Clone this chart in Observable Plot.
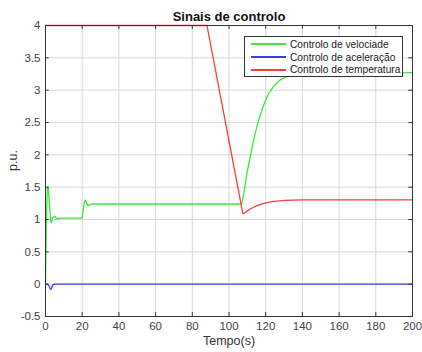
<!DOCTYPE html>
<html><head><meta charset="utf-8">
<script src="https://cdn.jsdelivr.net/npm/d3@7"></script>
<script src="https://cdn.jsdelivr.net/npm/@observablehq/plot@0.6"></script>
<style>
body{margin:0;background:#fff;font-family:"Liberation Sans",Arial,sans-serif;}
#wrap{position:relative;width:422px;height:352px;}
#legend{position:absolute;left:244px;top:36px;width:159px;height:41px;border:1px solid #333;background:#fff;font-size:10.2px;color:#222;box-sizing:border-box;padding-top:1px;white-space:nowrap;overflow:hidden;}
#legend .row{display:flex;align-items:center;height:12.7px;white-space:nowrap;}
#legend .sw{flex:none;display:block;width:35px;height:2px;margin:0 4px 0 6px;}
</style></head>
<body><div id="wrap"><div id="legend"></div></div>
<script>
const title = "Sinais de controlo";
const xLabel = "Tempo(s)";
const yLabel = "p.u.";
const seriesNames = ["Controlo de velociade", "Controlo de aceleração", "Controlo de temperatura"];
const seriesColors = ["#3ee83e", "#3a3aff", "#ff3a3a"];

const velT = [0, 0.5, 1, 1.5, 2, 2.5, 3, 3.5, 4, 5, 6, 7, 8, 10, 20, 20.5, 21, 21.5, 22, 23, 24, 25, 26, 30, 60, 107, 108, 110, 112, 114, 116, 118, 120, 122, 125, 128, 132, 136, 140, 150, 200];
const velV = [0, 1.0, 1.5, 1.5, 1.3, 1.1, 0.95, 0.98, 1.03, 1.05, 1.02, 1.01, 1.02, 1.02, 1.02, 1.12, 1.25, 1.3, 1.28, 1.22, 1.22, 1.24, 1.24, 1.24, 1.24, 1.24, 1.4, 1.75, 2.03, 2.3, 2.52, 2.7, 2.85, 2.97, 3.08, 3.16, 3.22, 3.25, 3.27, 3.27, 3.27];

const aceT = [0, 1, 2, 2.5, 3, 3.5, 4, 5, 200];
const aceV = [0, 0, -0.03, -0.07, -0.08, -0.05, -0.01, 0, 0];

const temT = [0, 88, 107.5, 108, 110, 112, 115, 118, 122, 126, 130, 135, 140, 150, 200];
const temV = [4, 4, 1.1, 1.09, 1.13, 1.17, 1.21, 1.24, 1.27, 1.285, 1.295, 1.30, 1.305, 1.305, 1.305];

const xTicks = [0, 20, 40, 60, 80, 100, 120, 140, 160, 180, 200];
const yTicks = [-0.5, 0, 0.5, 1, 1.5, 2, 2.5, 3, 3.5, 4];

const toRows = (t, v, s) => t.map((x, i) => ({t: x, v: v[i], s}));
const rows = [
  ...toRows(velT, velV, seriesNames[0]),
  ...toRows(aceT, aceV, seriesNames[1]),
  ...toRows(temT, temV, seriesNames[2])
];

const chart = Plot.plot({
  width: 422, height: 352,
  marginLeft: 45, marginRight: 10, marginTop: 25, marginBottom: 36,
  style: {fontFamily: '"Liberation Sans", Arial, sans-serif', fontSize: "11px", color: "#444", background: "#fff"},
  x: {domain: [0, 200], ticks: xTicks},
  y: {domain: [-0.5, 4], ticks: yTicks},
  color: {domain: seriesNames, range: seriesColors},
  marks: [
    Plot.gridX(xTicks, {stroke: "#d8d8d8", strokeOpacity: 1}),
    Plot.gridY(yTicks, {stroke: "#d8d8d8", strokeOpacity: 1}),
    Plot.line(rows, {x: "t", y: "v", z: "s", stroke: "s", strokeWidth: 1.3, curve: "linear"}),
    Plot.ruleY(yTicks, {y: d => d, x1: 0, x2: 2, stroke: "#333"}),
    Plot.ruleY(yTicks, {y: d => d, x1: 198, x2: 200, stroke: "#333"}),
    Plot.ruleX(xTicks, {x: d => d, y1: -0.5, y2: -0.44, stroke: "#333"}),
    Plot.ruleX(xTicks, {x: d => d, y1: 3.94, y2: 4, stroke: "#333"}),
    Plot.frame({stroke: "#333"}),
    Plot.axisX({ticks: xTicks, tickSize: 0, tickPadding: 5, label: null, fontSize: 11.5}),
    Plot.axisY({ticks: yTicks, tickSize: 0, tickPadding: 5, label: null, tickFormat: d => String(d), fontSize: 11.5}),
    Plot.text([xLabel], {frameAnchor: "bottom", dy: 28, text: d => d, fontSize: 12.5, fill: "#333"}),
    Plot.text([yLabel], {frameAnchor: "left", dx: -33, rotate: -90, text: d => d, fontSize: 12.5, fill: "#333"}),
    Plot.text([title], {frameAnchor: "top", dy: -14, text: d => d, fontSize: 13, fontWeight: "bold", fill: "#111"})
  ]
});
const wrap = document.getElementById("wrap");
wrap.insertBefore(chart, wrap.firstChild);
const leg = document.getElementById("legend");
seriesNames.forEach((n, i) => {
  const r = document.createElement("div");
  r.className = "row";
  const sw = document.createElement("span");
  sw.className = "sw";
  sw.style.background = seriesColors[i];
  const label = document.createElement("span");
  label.textContent = n;
  r.appendChild(sw);
  r.appendChild(label);
  leg.appendChild(r);
});
</script>
</body></html>
